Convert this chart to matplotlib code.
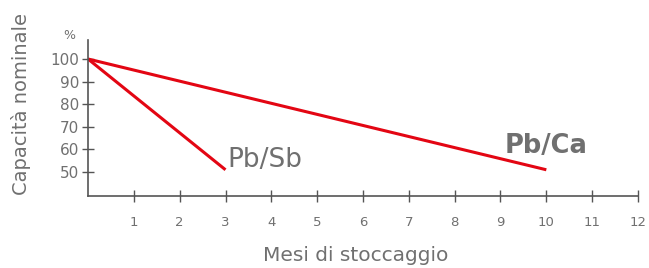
import matplotlib.pyplot as plt

months_sb = [0, 3]
cap_sb = [100, 51]
months_ca = [0, 10]
cap_ca = [100, 51]
xticks = list(range(1, 13))
yticks = [50, 60, 70, 80, 90, 100]

red = '#e30613'
grey = '#707070'

fig = plt.figure(figsize=(6.49, 2.68), dpi=100)
ax = fig.add_axes([88/649, 72/268, (638-88)/649, (196-40)/268])

ax.plot(months_sb, cap_sb, color=red, lw=2.2, solid_capstyle='butt')
ax.plot(months_ca, cap_ca, color=red, lw=2.2, solid_capstyle='butt')

ax.text(3.05, 55.5, 'Pb/Sb', color=grey, fontsize=19, va='center', ha='left')
ax.text(9.1, 61.5, 'Pb/Ca', color=grey, fontsize=18.5, fontweight='bold', va='center', ha='left')

ax.set_xlim(0, 12)
ax.set_ylim(39.4, 108.4)
ax.set_xticks(xticks)
ax.set_yticks(yticks)
for s in ['top', 'right']:
    ax.spines[s].set_visible(False)
for s in ['left', 'bottom']:
    ax.spines[s].set_color('#555555')
    ax.spines[s].set_linewidth(1.2)
ax.tick_params(axis='x', direction='inout', length=9, width=1, color='#555555',
               labelcolor=grey, labelsize=9.5, pad=10)
ax.tick_params(axis='y', direction='inout', length=9, width=1, color='#555555',
               labelcolor=grey, labelsize=11, pad=2)

ax.text(-0.42, 110.5, '%', color=grey, fontsize=9, ha='center', va='center')
ax.set_xlabel('Mesi di stoccaggio', color=grey, fontsize=14.5)
ax.set_ylabel('Capacità nominale', color=grey, fontsize=14)
ax.xaxis.set_label_coords(0.487, -0.38)
ax.yaxis.set_label_coords(-0.122, 0.59)
ax.xaxis.label.set_va('center')
ax.yaxis.label.set_va('center')

fig.savefig('out.png', dpi=100)
